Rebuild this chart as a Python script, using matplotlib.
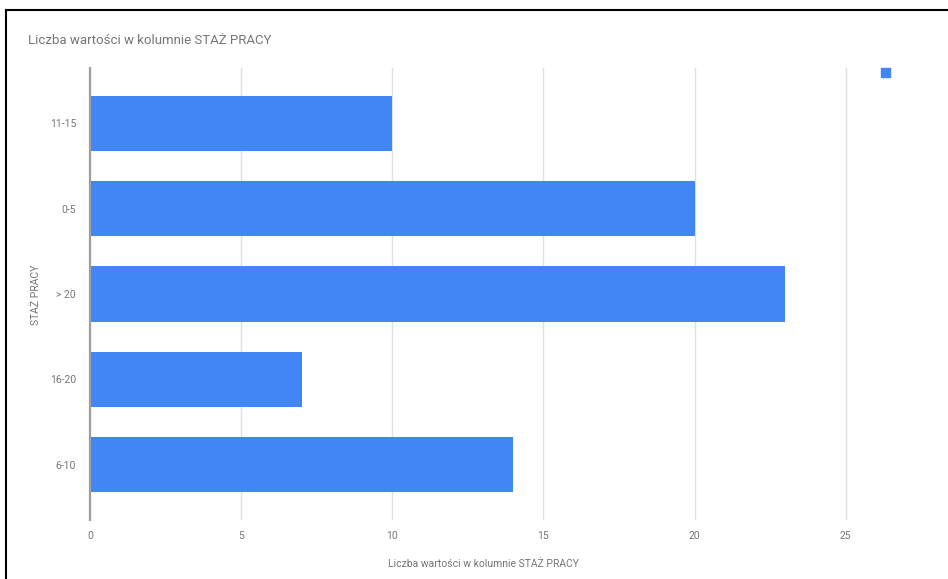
import matplotlib
matplotlib.use("Agg")
import matplotlib.pyplot as plt
from matplotlib.lines import Line2D
from matplotlib.patches import Rectangle

categories = ["11-15", "0-5", "> 20", "16-20", "6-10"]
values = [10, 20, 23, 7, 14]
x_ticks = [0, 5, 10, 15, 20, 25]

BLUE = "#4285F4"
GREY = "#757575"

plt.rcParams.update({"font.family": ["Roboto", "DejaVu Sans"]})

W, H = 948, 579
fig = plt.figure(figsize=(W / 100, H / 100), dpi=100)
fig.patch.set_facecolor("white")

# axes placed in pixel terms
left, right, top, bottom = 90, 876, 68, 520
ax = fig.add_axes([left / W, 1 - bottom / H, (right - left) / W, (bottom - top) / H])

ypos = list(range(len(categories)))
ax.barh(ypos, values, height=0.645, color=BLUE, zorder=3)
ax.set_ylim(4.65, -0.65)
ax.set_xlim(0, 26)

ax.set_xticks(x_ticks)
ax.set_xticklabels([str(t) for t in x_ticks])
ax.set_yticks(ypos)
ax.set_yticklabels(categories)
ax.tick_params(axis="both", length=0, colors=GREY, labelsize=7.5)
ax.tick_params(axis="x", pad=8)
ax.tick_params(axis="y", pad=10)

ax.grid(axis="x", color="#e0e0e0", lw=1, zorder=0)
ax.grid(axis="y", visible=False)
for s in ["top", "right", "bottom"]:
    ax.spines[s].set_visible(False)
ax.spines["left"].set_color("#9e9e9e")
ax.spines["left"].set_linewidth(1.6)
ax.spines["left"].set_zorder(4)

ax.set_xlabel("Liczba wartości w kolumnie STAŻ PRACY", color=GREY, fontsize=7.5, labelpad=13)
fig.text(36 / W, 1 - 295 / H, "STAŻ PRACY", color=GREY, fontsize=7.5,
         rotation=90, ha="center", va="center")

fig.text(28 / W, 1 - 40 / H, "Liczba wartości w kolumnie STAŻ PRACY",
         color=GREY, fontsize=9.5, va="center", ha="left")

# legend marker (empty label)
fig.add_artist(Rectangle((881 / W, 1 - 77 / H), 9 / W, 9 / H,
                         transform=fig.transFigure, color=BLUE))

# frame lines from the screenshot
fig.add_artist(Line2D([6 / W, 6 / W], [0, 1 - 10 / H], transform=fig.transFigure,
                      color="black", lw=1.5))
fig.add_artist(Line2D([6 / W, 1], [1 - 10 / H, 1 - 10 / H], transform=fig.transFigure,
                      color="black", lw=1.5))

fig.savefig("out.png", dpi=100)
